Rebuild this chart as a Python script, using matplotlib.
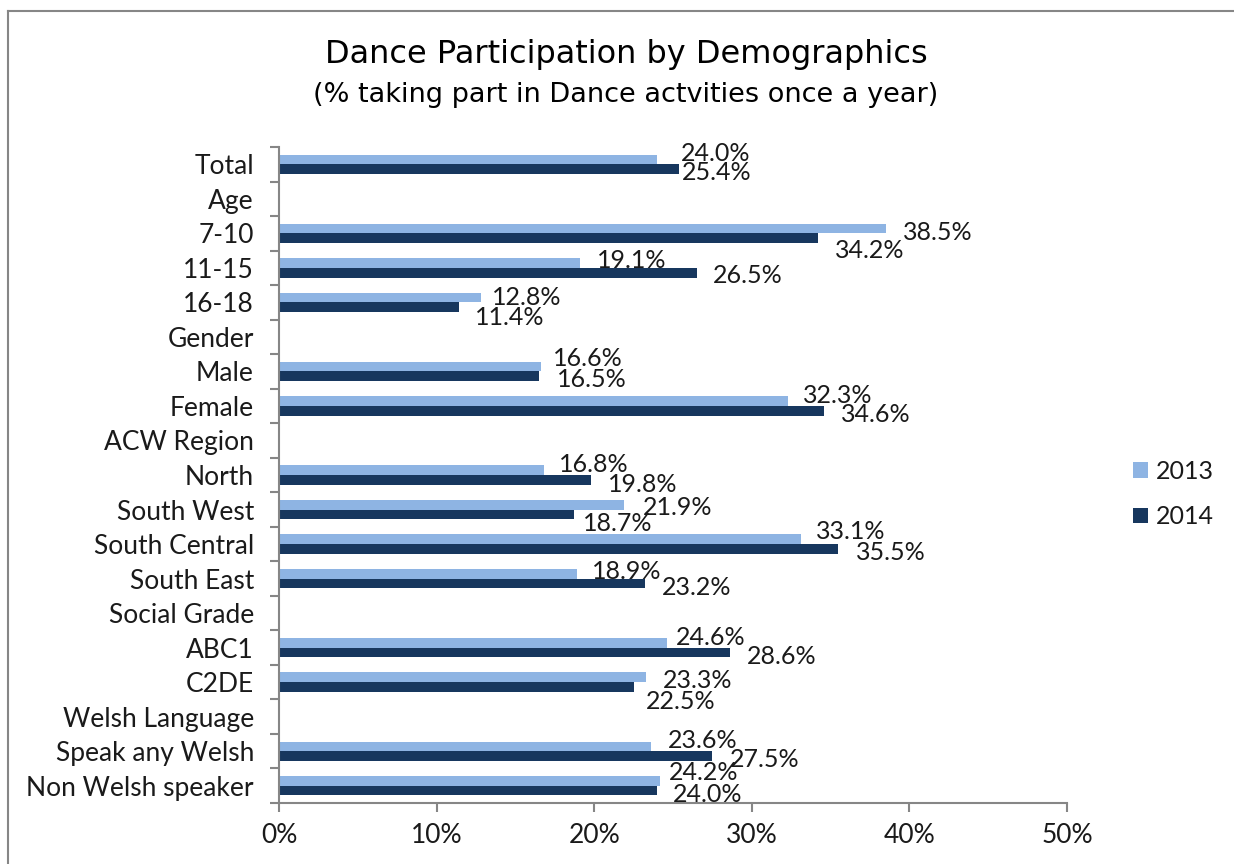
import numpy as np
import matplotlib
matplotlib.use("Agg")
import matplotlib.pyplot as plt
from matplotlib.patches import Patch
from matplotlib.lines import Line2D

categories = ["Total", "Age", "7-10", "11-15", "16-18", "Gender", "Male", "Female",
              "ACW Region", "North", "South West", "South Central", "South East",
              "Social Grade", "ABC1", "C2DE", "Welsh Language", "Speak any Welsh",
              "Non Welsh speaker"]
nan = np.nan
values_2013 = [24.0, nan, 38.5, 19.1, 12.8, nan, 16.6, 32.3, nan, 16.8, 21.9, 33.1,
               18.9, nan, 24.6, 23.3, nan, 23.6, 24.2]
values_2014 = [25.4, nan, 34.2, 26.5, 11.4, nan, 16.5, 34.6, nan, 19.8, 18.7, 35.5,
               23.2, nan, 28.6, 22.5, nan, 27.5, 24.0]
series_names = ["2013", "2014"]
xticks = [0, 10, 20, 30, 40, 50]
title = "Dance Participation by Demographics"
subtitle = "(% taking part in Dance actvities once a year)"

# data-label nudges in pixels (x: gap from bar end, y: down from bar centre)
nudge_x_2013 = [24, 0, 17, 17, 11, 0, 12, 15, 0, 15, 19, 15, 15, 0, 9, 17, 0, 17, 8]
nudge_y_2013 = [-7, 0, 3, -4.5, -2, 0, -9.5, -7.5, 0, -7, 1.6, -9.5, -4, 0, -6.5, 1.5, 0, -7, -9.5]
nudge_x_2014 = [3, 0, 17, 16, 16, 0, 18, 17, 0, 17, 9, 17, 17, 0, 17, 12, 0, 17, 16]
nudge_y_2014 = [2, 0, 11, 1.5, 9, 0, 2, 2, 0, 3, 7.5, 2, 2.5, 0, 2.5, 13.5, 0, 2, 2.5]

plt.rcParams['font.family'] = ['Lato', 'DejaVu Sans']
c13 = "#8EB4E3"
c14 = "#17375E"
grey = "#868686"
txt = "#1a1a1a"

W, H = 1234, 864
fig = plt.figure(figsize=(W / 100, H / 100), dpi=100)
ax = fig.add_axes([279 / W, 1 - 803 / H, (1067 - 279) / W, (803 - 147) / H])

y = np.arange(len(categories))
bh = 0.28
v13 = np.array(values_2013, dtype=float)
v14 = np.array(values_2014, dtype=float)
ax.barh(y - bh / 2, np.nan_to_num(v13), height=bh, color=c13, edgecolor="none")
ax.barh(y + bh / 2, np.nan_to_num(v14), height=bh, color=c14, edgecolor="none")

px = 0.72  # points per pixel at dpi 100
half_cap = 9.0
for i in range(len(categories)):
    if not np.isnan(v13[i]):
        ax.annotate(f"{v13[i]:.1f}%", (v13[i], y[i] - bh / 2),
                    xytext=(nudge_x_2013[i] * px, -(nudge_y_2013[i] + half_cap) * px),
                    textcoords="offset points", ha="left", va="baseline",
                    fontsize=18, color=txt)
    if not np.isnan(v14[i]):
        ax.annotate(f"{v14[i]:.1f}%", (v14[i], y[i] + bh / 2),
                    xytext=(nudge_x_2014[i] * px, -(nudge_y_2014[i] + half_cap) * px),
                    textcoords="offset points", ha="left", va="baseline",
                    fontsize=18, color=txt)

ax.set_xlim(0, 50)
ax.set_ylim(len(categories) - 0.5, -0.5)
ax.set_xticks(xticks)
ax.set_xticklabels([f"{t}%" for t in xticks], fontsize=19, color=txt)
ax.set_yticks(y)
ax.set_yticklabels(categories, fontsize=19, color=txt)
ax.set_yticks(np.arange(-0.5, len(categories), 1.0), minor=True)
ax.tick_params(axis="y", which="major", length=0, pad=18)
ax.tick_params(axis="y", which="minor", length=6.5, width=1.5, color=grey)
ax.tick_params(axis="x", which="major", length=6.5, width=1.5, color=grey, pad=8)
for s in ["top", "right"]:
    ax.spines[s].set_visible(False)
for s in ["left", "bottom"]:
    ax.spines[s].set_color(grey)
    ax.spines[s].set_linewidth(1.5)

fig.text(626 / W, 1 - 55 / H, title, ha="center", va="center", fontsize=23,
         color="black", family=["DejaVu Sans"])
fig.text(626 / W, 1 - 95 / H, subtitle, ha="center", va="center", fontsize=19.5,
         color="black", family=["DejaVu Sans"])

handles = [Patch(facecolor=c13, edgecolor="none"), Patch(facecolor=c14, edgecolor="none")]
leg = fig.legend(handles, series_names, loc="center left", bbox_to_anchor=(1133 / W, 1 - 494 / H),
                 frameon=False, fontsize=18, handlelength=0.6, handleheight=0.6,
                 handletextpad=0.3, labelspacing=0.9, borderpad=0, borderaxespad=0)
for t in leg.get_texts():
    t.set_color(txt)

# figure border
fig.add_artist(Line2D([8 / W, 1.01], [1 - 11 / H, 1 - 11 / H], transform=fig.transFigure,
                      color=grey, lw=1.5))
fig.add_artist(Line2D([8 / W, 8 / W], [1 - 11 / H, -0.01], transform=fig.transFigure,
                      color=grey, lw=1.5))

fig.savefig("out.png", dpi=100, facecolor="white")
